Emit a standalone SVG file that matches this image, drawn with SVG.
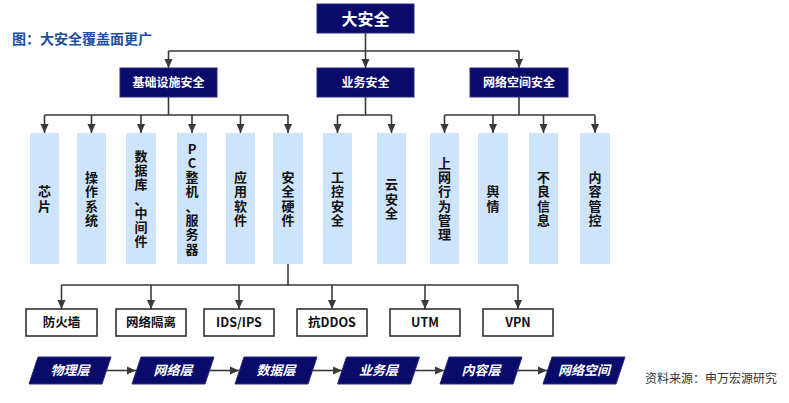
<svg xmlns="http://www.w3.org/2000/svg" width="789" height="403" viewBox="0 0 789 403">
<defs>
<marker id="ah" viewBox="0 0 10 10" refX="10" refY="5" markerWidth="9" markerHeight="9" markerUnits="userSpaceOnUse" orient="auto"><path d="M0,0.5 L10,5 L0,9.5 z" fill="#3a3a3a"/></marker>
<style>
.nav{fill:#0a0a6b;stroke:#2a2a7a;stroke-width:1}
.lb{fill:#cde4fb}
.wb{fill:#fff;stroke:#333;stroke-width:1.6}
.t{font-family:"Noto Sans CJK SC","Noto Sans",sans-serif;font-weight:bold}
.w{fill:#fff}
.k{fill:#111}
.v{font-size:13px;fill:#111;text-anchor:middle}
.c{stroke:#3a3a3a;stroke-width:1.6;fill:none}
.a{stroke:#3a3a3a;stroke-width:1.6;fill:none;marker-end:url(#ah)}
</style>
</defs>
<rect width="789" height="403" fill="#fff"/>
<text class="t" x="12" y="44" font-size="14" fill="#1c4fa3">图：大安全覆盖面更广</text>
<text x="645" y="383" font-family="'Noto Sans CJK SC',sans-serif" font-size="12" fill="#333">资料来源：申万宏源研究</text>

<g id="connectors">
<path class="c" d="M365.5,33 V51 M168.5,51 H519"/>
<path class="a" d="M168.5,51 V68"/><path class="a" d="M365.5,51 V68"/><path class="a" d="M519,51 V68"/>
<path class="c" d="M168.5,97 V115 M44.5,115 H288"/>
<path class="a" d="M44.5,115 V133"/><path class="a" d="M91.5,115 V133"/><path class="a" d="M141,115 V133"/><path class="a" d="M192,115 V133"/><path class="a" d="M240.5,115 V133"/><path class="a" d="M288,115 V133"/>
<path class="c" d="M365.5,97 V115 M337.5,115 H391.5"/>
<path class="a" d="M337.5,115 V133"/><path class="a" d="M391.5,115 V133"/>
<path class="c" d="M519,97 V115 M444.5,115 H595"/>
<path class="a" d="M444.5,115 V133"/><path class="a" d="M493,115 V133"/><path class="a" d="M543.5,115 V133"/><path class="a" d="M595,115 V133"/>
<path class="c" d="M288,264 V285 M61.5,285 H518"/>
<path class="a" d="M61.5,285 V309"/><path class="a" d="M151,285 V309"/><path class="a" d="M239,285 V309"/><path class="a" d="M332,285 V309"/><path class="a" d="M425,285 V309"/><path class="a" d="M518,285 V309"/>
<path class="a" d="M106.5,370.5 H136"/><path class="a" d="M209.5,370.5 H239"/><path class="a" d="M312.5,370.5 H342"/><path class="a" d="M415,370.5 H444"/><path class="a" d="M517.5,370.5 H547"/>
</g>

<g id="n-top"><rect class="nav" x="317" y="4" width="97" height="29"/><text class="t w" x="365.5" y="25" font-size="16" text-anchor="middle">大安全</text></g>
<g id="n-jichu"><rect class="nav" x="120" y="68" width="97" height="29"/><text class="t w" x="168.5" y="87" font-size="12" text-anchor="middle">基础设施安全</text></g>
<g id="n-yewu"><rect class="nav" x="317" y="68" width="97" height="29"/><text class="t w" x="365.5" y="87" font-size="12" text-anchor="middle">业务安全</text></g>
<g id="n-wangluo"><rect class="nav" x="470" y="68" width="98" height="29"/><text class="t w" x="519" y="87" font-size="12" text-anchor="middle">网络空间安全</text></g>

<g id="n-xinpian"><rect class="lb" x="30" y="133" width="29" height="131"/><text class="t v"><tspan x="44.5" y="196.4">芯</tspan><tspan x="44.5" dy="14.3">片</tspan></text></g>
<g id="n-caozuo"><rect class="lb" x="77" y="133" width="29" height="131"/><text class="t v"><tspan x="91.5" y="182">操</tspan><tspan x="91.5" dy="14.3">作</tspan><tspan x="91.5" dy="14.3">系</tspan><tspan x="91.5" dy="14.3">统</tspan></text></g>
<g id="n-shujuku"><rect class="lb" x="126" y="133" width="30" height="131"/><text class="t v"><tspan x="141" y="160.6">数</tspan><tspan x="141" dy="14.3">据</tspan><tspan x="141" dy="14.3">库</tspan><tspan x="141" dy="14.3">、</tspan><tspan x="141" dy="14.3">中</tspan><tspan x="141" dy="14.3">间</tspan><tspan x="141" dy="14.3">件</tspan></text></g>
<g id="n-pc"><rect class="lb" x="177" y="133" width="30" height="131"/><text class="t v"><tspan x="192" y="153.5">P</tspan><tspan x="192" dy="14.3">C</tspan><tspan x="192" dy="14.3">整</tspan><tspan x="192" dy="14.3">机</tspan><tspan x="192" dy="14.3">、</tspan><tspan x="192" dy="14.3">服</tspan><tspan x="192" dy="14.3">务</tspan><tspan x="192" dy="14.3">器</tspan></text></g>
<g id="n-yingyong"><rect class="lb" x="226" y="133" width="29" height="131"/><text class="t v"><tspan x="240.5" y="182">应</tspan><tspan x="240.5" dy="14.3">用</tspan><tspan x="240.5" dy="14.3">软</tspan><tspan x="240.5" dy="14.3">件</tspan></text></g>
<g id="n-yingjian"><rect class="lb" x="273" y="133" width="30" height="131"/><text class="t v"><tspan x="288" y="182">安</tspan><tspan x="288" dy="14.3">全</tspan><tspan x="288" dy="14.3">硬</tspan><tspan x="288" dy="14.3">件</tspan></text></g>
<g id="n-gongkong"><rect class="lb" x="323" y="133" width="29" height="131"/><text class="t v"><tspan x="337.5" y="182">工</tspan><tspan x="337.5" dy="14.3">控</tspan><tspan x="337.5" dy="14.3">安</tspan><tspan x="337.5" dy="14.3">全</tspan></text></g>
<g id="n-yun"><rect class="lb" x="377" y="133" width="29" height="131"/><text class="t v"><tspan x="391.5" y="189.2">云</tspan><tspan x="391.5" dy="14.3">安</tspan><tspan x="391.5" dy="14.3">全</tspan></text></g>
<g id="n-shangwang"><rect class="lb" x="430" y="133" width="29" height="131"/><text class="t v"><tspan x="444.5" y="167.8">上</tspan><tspan x="444.5" dy="14.3">网</tspan><tspan x="444.5" dy="14.3">行</tspan><tspan x="444.5" dy="14.3">为</tspan><tspan x="444.5" dy="14.3">管</tspan><tspan x="444.5" dy="14.3">理</tspan></text></g>
<g id="n-yuqing"><rect class="lb" x="478" y="133" width="30" height="131"/><text class="t v"><tspan x="493" y="196.4">舆</tspan><tspan x="493" dy="14.3">情</tspan></text></g>
<g id="n-buliang"><rect class="lb" x="529" y="133" width="29" height="131"/><text class="t v"><tspan x="543.5" y="182">不</tspan><tspan x="543.5" dy="14.3">良</tspan><tspan x="543.5" dy="14.3">信</tspan><tspan x="543.5" dy="14.3">息</tspan></text></g>
<g id="n-neirong"><rect class="lb" x="580" y="133" width="30" height="131"/><text class="t v"><tspan x="595" y="182">内</tspan><tspan x="595" dy="14.3">容</tspan><tspan x="595" dy="14.3">管</tspan><tspan x="595" dy="14.3">控</tspan></text></g>

<g id="n-fanghuoqiang"><rect class="wb" x="26" y="309" width="71" height="27"/><text class="t k" x="61.5" y="327" font-size="12.5" text-anchor="middle">防火墙</text></g>
<g id="n-geli"><rect class="wb" x="116" y="309" width="70" height="27"/><text class="t k" x="151" y="327" font-size="12.5" text-anchor="middle">网络隔离</text></g>
<g id="n-ids"><rect class="wb" x="204" y="309" width="70" height="27"/><text class="t k" x="239" y="327" font-size="12.5" text-anchor="middle">IDS/IPS</text></g>
<g id="n-ddos"><rect class="wb" x="297" y="309" width="70" height="27"/><text class="t k" x="332" y="327" font-size="12.5" text-anchor="middle">抗DDOS</text></g>
<g id="n-utm"><rect class="wb" x="390" y="309" width="70" height="27"/><text class="t k" x="425" y="327" font-size="12.5" text-anchor="middle">UTM</text></g>
<g id="n-vpn"><rect class="wb" x="483" y="309" width="70" height="27"/><text class="t k" x="518" y="327" font-size="12.5" text-anchor="middle">VPN</text></g>

<g id="n-wuli"><polygon class="nav" points="38,357 111,357 102,384 29,384"/><text class="t w" x="70" y="375" font-size="13" font-style="italic" text-anchor="middle">物理层</text></g>
<g id="n-wangluoceng"><polygon class="nav" points="141,357 214,357 205,384 132,384"/><text class="t w" x="173" y="375" font-size="13" font-style="italic" text-anchor="middle">网络层</text></g>
<g id="n-shuju"><polygon class="nav" points="244,357 317,357 308,384 235,384"/><text class="t w" x="276" y="375" font-size="13" font-style="italic" text-anchor="middle">数据层</text></g>
<g id="n-yewuceng"><polygon class="nav" points="346.5,357 419.5,357 410.5,384 337.5,384"/><text class="t w" x="378.5" y="375" font-size="13" font-style="italic" text-anchor="middle">业务层</text></g>
<g id="n-neirongceng"><polygon class="nav" points="449,357 522,357 513,384 440,384"/><text class="t w" x="481" y="375" font-size="13" font-style="italic" text-anchor="middle">内容层</text></g>
<g id="n-kongjian"><polygon class="nav" points="552,357 625,357 616,384 543,384"/><text class="t w" x="584" y="375" font-size="13" font-style="italic" text-anchor="middle">网络空间</text></g>
</svg>
